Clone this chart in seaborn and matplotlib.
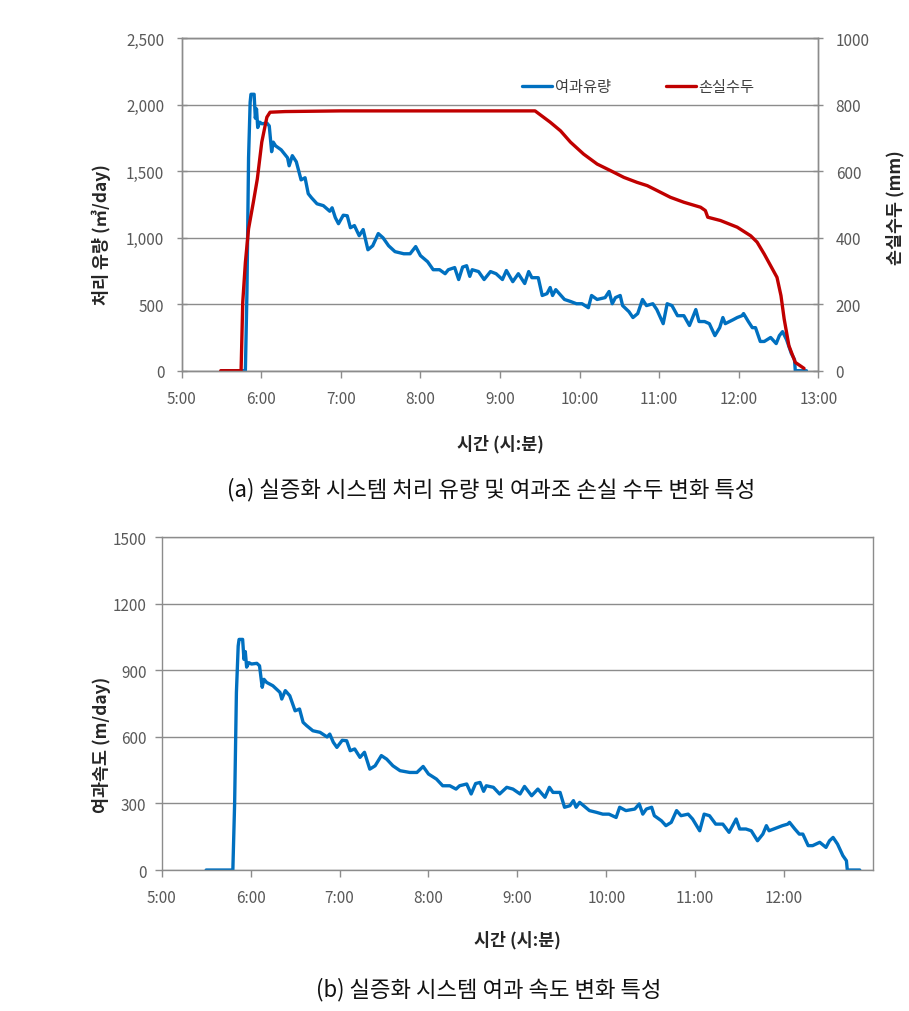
import numpy as np
import pandas as pd
import matplotlib
matplotlib.use("Agg")
import matplotlib.pyplot as plt
from matplotlib.ticker import FuncFormatter
import seaborn as sns

# ---------------- data (time in decimal hours) ----------------
time_h = [5.50, 5.80, 5.82, 5.84, 5.86, 5.87, 5.91, 5.925, 5.94, 5.955,
          5.98, 6.01, 6.07, 6.10, 6.13, 6.15, 6.18, 6.25, 6.33, 6.35,
          6.39, 6.44, 6.50, 6.55, 6.59, 6.63, 6.70, 6.78, 6.86, 6.89,
          6.93, 6.97, 7.03, 7.08, 7.12, 7.17, 7.23, 7.28, 7.34, 7.40,
          7.47, 7.53, 7.60, 7.68, 7.79, 7.87, 7.94, 8.00, 8.09, 8.16,
          8.24, 8.31, 8.35, 8.43, 8.48, 8.53, 8.58, 8.62, 8.65, 8.73,
          8.80, 8.88, 8.95, 9.03, 9.08, 9.16, 9.23, 9.31, 9.36, 9.40,
          9.48, 9.53, 9.59, 9.63, 9.66, 9.70, 9.81, 9.89, 9.96, 10.03,
          10.11, 10.15, 10.22, 10.32, 10.37, 10.41, 10.45, 10.51, 10.54, 10.62,
          10.67, 10.73, 10.79, 10.84, 10.92, 10.97, 11.05, 11.10, 11.16, 11.23,
          11.31, 11.38, 11.46, 11.50, 11.57, 11.63, 11.70, 11.76, 11.80, 11.83,
          11.93, 11.98, 12.04, 12.06, 12.12, 12.17, 12.21, 12.27, 12.32, 12.40,
          12.47, 12.51, 12.55, 12.60, 12.66, 12.70, 12.71, 12.85]

flow_m3_day = [0, 0, 600, 1600, 2020, 2080, 2080, 1900, 1970, 1830,
               1870, 1858, 1864, 1842, 1648, 1720, 1692, 1662, 1602, 1542,
               1618, 1572, 1436, 1452, 1332, 1302, 1256, 1242, 1200, 1226,
               1152, 1106, 1170, 1166, 1076, 1092, 1016, 1062, 910, 940,
               1032, 1000, 940, 896, 880, 880, 934, 866, 820, 760,
               760, 730, 760, 776, 686, 780, 790, 710, 760, 746,
               686, 746, 730, 686, 754, 670, 730, 656, 746, 700,
               700, 566, 580, 626, 566, 610, 536, 520, 504, 504,
               474, 566, 536, 550, 596, 504, 550, 566, 490, 444,
               400, 430, 536, 490, 504, 460, 354, 504, 490, 414,
               414, 340, 460, 370, 370, 354, 264, 324, 400, 354,
               384, 400, 414, 430, 370, 324, 324, 220, 220, 250,
               204, 264, 294, 234, 130, 84, 0, 0]

velocity_m_day = [0, 0, 300, 800, 1010, 1040, 1040, 950, 985, 915,
                  935, 929, 932, 921, 824, 860, 846, 831, 801, 771,
                  809, 786, 718, 726, 666, 651, 628, 621, 600, 613,
                  576, 553, 585, 583, 538, 546, 508, 531, 455, 470,
                  516, 500, 470, 448, 440, 440, 467, 433, 410, 380,
                  380, 365, 380, 388, 343, 390, 395, 355, 380, 373,
                  343, 373, 365, 343, 377, 335, 365, 328, 373, 350,
                  350, 283, 290, 313, 283, 305, 268, 260, 252, 252,
                  237, 283, 268, 275, 298, 252, 275, 283, 245, 222,
                  200, 215, 268, 245, 252, 230, 177, 252, 245, 207,
                  207, 170, 230, 185, 185, 177, 132, 162, 200, 177,
                  192, 200, 207, 215, 185, 162, 162, 110, 110, 125,
                  102, 132, 147, 117, 65, 42, 0, 0]

head_time_h = [5.49, 5.746, 5.767, 5.80, 5.84, 5.90, 5.95, 6.006, 6.07, 6.11,
               6.30, 7.00, 9.44, 9.63, 9.76, 9.885, 10.05, 10.22, 10.39, 10.555,
               10.72, 10.85, 10.975, 11.14, 11.31, 11.52, 11.58, 11.61, 11.77, 11.98,
               12.15, 12.23, 12.32, 12.40, 12.48, 12.53, 12.57, 12.63, 12.71, 12.82]
head_loss_mm = [0, 0, 206, 326, 427, 507, 577, 688, 763, 778,
                780, 782, 782, 748, 722, 688, 652, 622, 602, 582,
                567, 557, 542, 522, 507, 492, 482, 462, 452, 432,
                406, 387, 351, 316, 281, 226, 156, 75, 25, 7]

top_xticks = [5, 6, 7, 8, 9, 10, 11, 12, 13]
top_xlabels = ["5:00", "6:00", "7:00", "8:00", "9:00", "10:00", "11:00", "12:00", "13:00"]
bot_xticks = [5, 6, 7, 8, 9, 10, 11, 12]
bot_xlabels = ["5:00", "6:00", "7:00", "8:00", "9:00", "10:00", "11:00", "12:00"]
flow_ticks = [0, 500, 1000, 1500, 2000, 2500]
head_ticks = [0, 200, 400, 600, 800, 1000]
vel_ticks = [0, 300, 600, 900, 1200, 1500]

series_flow = "여과유량"
series_head = "손실수두"

# ---------------- style ----------------
sns.set_theme(style="white")
plt.rcParams["font.family"] = ["Noto Sans CJK KR", "DejaVu Sans"]

BLUE = "#0070C0"
RED = "#C00000"
GRID = "#8C8C8C"
TICKC = "#595959"
LW = 2.4

fig = plt.figure(figsize=(9.09, 10.12), dpi=100)
fig.patch.set_facecolor("white")

df_flow = pd.DataFrame({"t": time_h, "v": flow_m3_day})
df_vel = pd.DataFrame({"t": time_h, "v": velocity_m_day})
df_head = pd.DataFrame({"t": head_time_h, "v": head_loss_mm})

def style_axes(ax):
    for s in ax.spines.values():
        s.set_color(GRID)
        s.set_linewidth(1.0)
    ax.grid(axis="y", color=GRID, linewidth=1.0)
    ax.grid(axis="x", visible=False)
    ax.set_axisbelow(True)

# ---------------- top chart ----------------
ax1 = fig.add_axes([0.1999, 0.6327, 0.7004, 0.3283])
sns.lineplot(data=df_flow, x="t", y="v", ax=ax1, color=BLUE, linewidth=LW,
             estimator=None, sort=False, label=series_flow, legend=False)
ax1.set_xlim(5, 13)
ax1.set_ylim(0, 2500)
ax1.set_xticks(top_xticks)
ax1.set_xticklabels(top_xlabels)
ax1.set_yticks(flow_ticks)
ax1.yaxis.set_major_formatter(FuncFormatter(lambda v, p: f"{int(v):,}"))
ax1.set_xlabel("")
ax1.set_ylabel("")
style_axes(ax1)
ax1.tick_params(axis="y", direction="inout", length=7, width=1, color=GRID,
                labelsize=11, labelcolor=TICKC, pad=9, left=True)
ax1.tick_params(axis="x", direction="out", length=5, width=1, color=GRID,
                labelsize=11, labelcolor=TICKC, pad=9, bottom=True)

ax2 = ax1.twinx()
sns.lineplot(data=df_head, x="t", y="v", ax=ax2, color=RED, linewidth=LW,
             estimator=None, sort=False, label=series_head, legend=False)
ax2.set_ylim(0, 1000)
ax2.set_xlim(5, 13)
ax2.set_yticks(head_ticks)
ax2.set_ylabel("")
ax2.set_xlabel("")
ax2.grid(False)
for s in ax2.spines.values():
    s.set_color(GRID)
    s.set_linewidth(1.0)
ax2.tick_params(axis="y", direction="inout", length=7, width=1, color=GRID,
                labelsize=11, labelcolor=TICKC, pad=9, right=True)

h1, l1 = ax1.get_legend_handles_labels()
h2, l2 = ax2.get_legend_handles_labels()
leg = ax2.legend(h1 + h2, l1 + l2, loc="center", bbox_to_anchor=(0.717, 0.854),
                 ncol=2, frameon=False, fontsize=11, handlelength=2.0,
                 handletextpad=0.15, columnspacing=3.6)
for t in leg.get_texts():
    t.set_color("#404040")

# ---------------- bottom chart ----------------
ax3 = fig.add_axes([0.1779, 0.1393, 0.7826, 0.3287])
sns.lineplot(data=df_vel, x="t", y="v", ax=ax3, color=BLUE, linewidth=LW,
             estimator=None, sort=False, legend=False)
ax3.set_xlim(5, 13)
ax3.set_ylim(0, 1500)
ax3.set_xticks(bot_xticks)
ax3.set_xticklabels(bot_xlabels)
ax3.set_yticks(vel_ticks)
ax3.set_xlabel("")
ax3.set_ylabel("")
style_axes(ax3)
ax3.tick_params(axis="y", direction="out", length=5, width=1, color=GRID,
                labelsize=11, labelcolor=TICKC, pad=6, left=True)
ax3.tick_params(axis="x", direction="out", length=5, width=1, color=GRID,
                labelsize=11, labelcolor=TICKC, pad=9, bottom=True)

# ---------------- axis titles & captions ----------------
lab_kw = dict(fontsize=12.5, fontweight="bold", color="#262626")
fig.text(0.1119, 0.7678, "처리 유량 (㎥/day)", rotation=90, ha="center", va="center", **lab_kw)
fig.text(0.9846, 0.7945, "손실수두 (mm)", rotation=90, ha="center", va="center", **lab_kw)
fig.text(0.550, 0.5613, "시간 (시:분)", ha="center", va="center", **lab_kw)
fig.text(0.1119, 0.2638, "여과속도 (m/day)", rotation=90, ha="center", va="center", **lab_kw)
fig.text(0.569, 0.0711, "시간 (시:분)", ha="center", va="center", **lab_kw)

cap_kw = dict(fontsize=16, color="#111111", ha="center", va="center")
fig.text(0.5407, 0.5158, "(a) 실증화 시스템 처리 유량 및 여과조 손실 수두 변화 특성", **cap_kw)
fig.text(0.538, 0.0217, "(b) 실증화 시스템 여과 속도 변화 특성", **cap_kw)

fig.savefig("out.png", dpi=100, facecolor="white")
